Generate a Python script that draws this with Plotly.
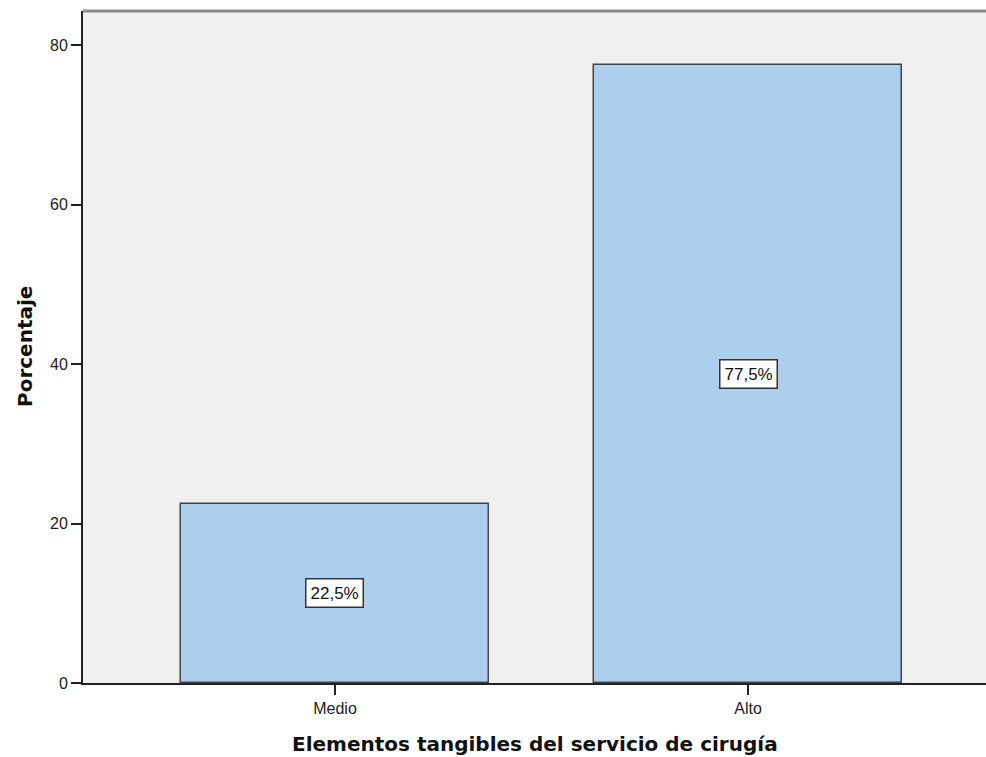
import plotly.graph_objects as go

categories = ["Medio", "Alto"]
values = [22.5, 77.5]
labels = ["22,5%", "77,5%"]
y_ticks = [0, 20, 40, 60, 80]
x_title = "Elementos tangibles del servicio de cirugía"
y_title = "Porcentaje"

W, H = 986, 757
fig = go.Figure()
fig.add_trace(go.Bar(
    x=categories, y=values, width=0.746,
    marker=dict(color="#ADCFEE", line=dict(color="#444444", width=1.5)),
    hoverinfo="skip",
))
for c, v, t in zip(categories, values, labels):
    fig.add_annotation(x=c, y=v / 2, text=t, showarrow=False,
                       bgcolor="white", bordercolor="#333333", borderwidth=1.5,
                       borderpad=4,
                       font=dict(family="Liberation Sans, Arial", size=17, color="#111111"))

fig.add_shape(type="line", xref="paper", yref="paper", x0=0, x1=1, y0=1, y1=1,
              line=dict(color="#8A8A8A", width=3))

fig.add_annotation(xref="paper", yref="paper", x=0.5, y=0, xanchor="center",
                   yanchor="middle", yshift=-61, showarrow=False,
                   text="<b>" + x_title + "</b>",
                   font=dict(family="DejaVu Sans", size=20, color="#111111"))
fig.add_annotation(xref="paper", yref="paper", x=0, y=0.5, xanchor="center",
                   yanchor="middle", xshift=-58, textangle=-90, showarrow=False,
                   text="<b>" + y_title + "</b>",
                   font=dict(family="DejaVu Sans", size=20, color="#111111"))

fig.update_layout(
    width=W, height=H,
    margin=dict(l=83, r=0, t=11, b=74),
    paper_bgcolor="white", plot_bgcolor="#F0F0F0",
    showlegend=False, bargap=0,
    font=dict(family="Liberation Sans, Arial", size=16, color="#222222"),
    xaxis=dict(
        type="category", range=[-0.61, 1.576],
        showline=True, linecolor="#222222", linewidth=2,
        ticks="outside", ticklen=10, tickcolor="#222222", tickwidth=1.5,
        showgrid=False, zeroline=False,
        tickfont=dict(family="Liberation Sans, Arial", size=16, color="#222222"),
    ),
    yaxis=dict(
        range=[0, 84.3], tickvals=y_ticks,
        showline=True, linecolor="#222222", linewidth=2,
        ticks="outside", ticklen=10, tickcolor="#222222", tickwidth=1.5,
        showgrid=False, zeroline=False,
        tickfont=dict(family="Liberation Sans, Arial", size=16, color="#222222"),
    ),
)
fig.write_html("out.html")
